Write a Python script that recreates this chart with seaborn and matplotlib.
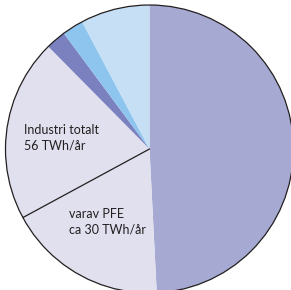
import numpy as np
import matplotlib
matplotlib.use("Agg")
import matplotlib.pyplot as plt
import seaborn as sns

sns.set_theme(style="white")
plt.rcParams['font.family'] = ['Lato', 'DejaVu Sans']

# Shares (percent of total)
categories = ["Övrigt", "Industri totalt", "Kategori A", "Kategori B", "Kategori C"]
shares = [49.2, 38.4, 2.25, 2.4, 7.75]
pfe_share = 17.9  # varav PFE, part of the industry slice
colors = ["#a6aad3", "#e1e0ef", "#7b81bf", "#8ec5ee", "#c6dff5"]
label_industry = ["Industri totalt", "56 TWh/år"]
label_pfe = ["varav PFE", "ca 30 TWh/år"]

W, H = 291, 290
cx, cy_top, R = 149.5, 149.0, 144.0
fig = plt.figure(figsize=(W / 100, H / 100), dpi=100)
ax = fig.add_axes([0, 0, 1, 1])
ax.pie(shares, colors=colors, startangle=90, counterclock=False, radius=1.0,
       wedgeprops=dict(linewidth=0, edgecolor="none"))
# outline
circ = plt.Circle((0, 0), 1.0, fill=False, edgecolor="#231f20", linewidth=0.9)
ax.add_patch(circ)
# PFE divider line
ang_deg = 90 - 360 * (shares[0] + pfe_share) / sum(shares)
a = np.deg2rad(ang_deg)
ax.plot([0, np.cos(a)], [0, np.sin(a)], color="#231f20", linewidth=0.9)


def px(x, y):
    return (x - cx) / R, (cy_top - y) / R


for i, line in enumerate(label_industry):
    ax.text(*px(24, 134 + 15 * i), line, ha="left", va="baseline",
            fontsize=9, color="#231f20")
for i, line in enumerate(label_pfe):
    ax.text(*px(69, 218.5 + 15 * i), line, ha="left", va="baseline",
            fontsize=9, color="#231f20")

ax.set_xlim(-cx / R, (W - cx) / R)
ax.set_ylim(-(H - cy_top) / R, cy_top / R)
ax.set_aspect("equal")
ax.axis("off")
fig.savefig("out.png", dpi=100, facecolor="white")
